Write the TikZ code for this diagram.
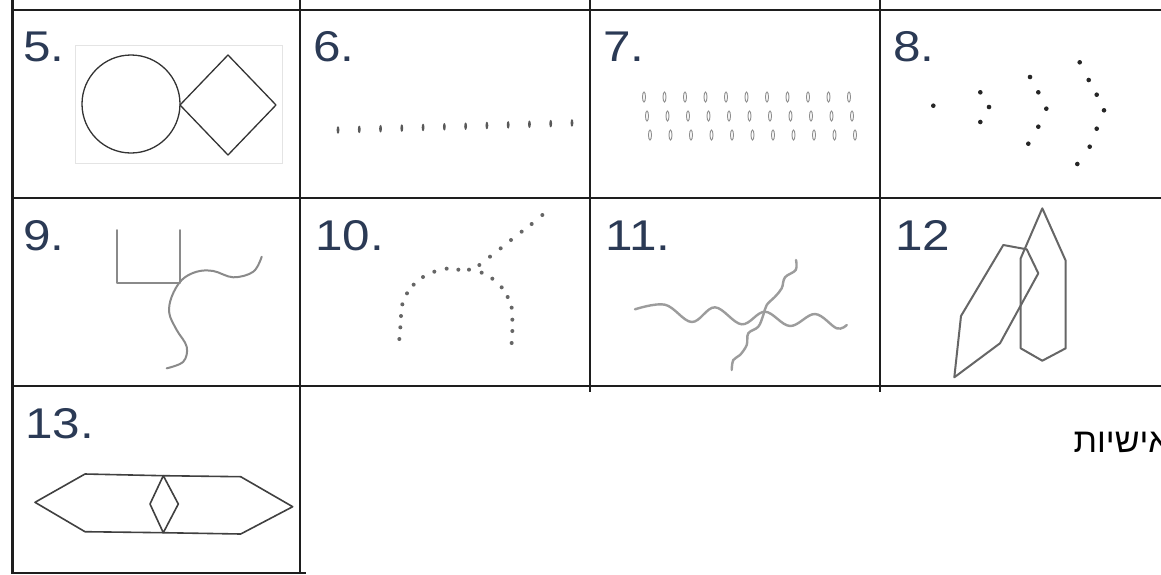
\documentclass[tikz,border=0pt]{standalone}
\usepackage{fontspec}
\setmainfont{Liberation Sans}
\newfontfamily\hebfont[Script=Hebrew]{Liberation Sans}
\TeXXeTstate=1
\definecolor{lab}{HTML}{2B3A55}
\definecolor{gridc}{HTML}{1E1E1E}
\definecolor{shp}{HTML}{333333}
\definecolor{gshp}{HTML}{8A8A8A}
\definecolor{faint}{HTML}{E4E4E4}
\begin{document}
\begin{tikzpicture}[x=1pt,y=-1pt,
  gridline/.style={line width=2pt, draw=gridc},
  num/.style={anchor=base west, inner sep=0pt, text=lab, font=\fontsize{43}{43}\selectfont, xscale=1.15},
  thinshape/.style={line width=1.3pt, draw=shp, line join=round},
  greyshape/.style={line width=2pt, draw=gshp, line join=round, line cap=round},
  wave/.style={line width=2.4pt, draw=gshp!85, line cap=round}]
\useasboundingbox (0,0) rectangle (1161,574);
\clip (0,0) rectangle (1161,574);
\fill[white] (0,0) rectangle (1161,574);

% grid
\draw[gridline, line width=3pt] (12,0) -- (12,574);
\draw[gridline] (12,10) -- (1161,10);
\draw[gridline] (12,198) -- (1161,198);
\draw[gridline] (12,386) -- (1161,386);
\draw[gridline] (12,573) -- (306,573);
\draw[gridline] (300,0) -- (300,574);
\draw[gridline] (590,0) -- (590,392);
\draw[gridline] (880,0) -- (880,392);

% labels
\node[num] (l5) at (23,61) {5.};
\node[num] (l6) at (313,61) {6.};
\node[num] (l7) at (603,61) {7.};
\node[num] (l8) at (893,61) {8.};
\node[num] (l9) at (23,250) {9.};
\node[num] (l10) at (315,250) {10.};
\node[num] (l11) at (605,250) {11.};
\node[num] (l12) at (895,250) {12};
\node[num] (l13) at (25,438) {13.};

% cell 5
\draw[faint, line width=0.8pt] (75,45) rectangle (282,163);
\draw[thinshape] (131,104) circle [radius=49pt];
\draw[thinshape] (180,105) -- (228,55) -- (276,105) -- (228,155) -- cycle;

% cell 6
\foreach \i in {0,...,11}
  \fill[black!65] ({338+\i*21.27},{130-\i*0.64}) ellipse [x radius=1.4pt, y radius=3.8pt];

% cell 7
\foreach \r/\xa/\yy in {0/644/97, 1/647/116, 2/650/135}
  \foreach \i in {0,...,10}
    \draw[black!45, line width=0.9pt] ({\xa+\i*20.5},\yy) ellipse [x radius=1.5pt, y radius=5pt];

% cell 8
\foreach \p in {(933.3,105.7),(980.3,92.3),(989,107),(980.3,122),
  (1030,77),(1038.3,92.3),(1046.3,108.7),(1038.3,126.7),(1028.3,143.7),
  (1079.7,62.3),(1088.7,80),(1096.7,94.7),(1104,110.3),(1096.7,128.7),(1089.7,146.7),(1077.3,164)}
  \fill[black!85] \p circle [radius=2.3pt];

% cell 9
\draw[greyshape] (116.7,230) -- (116.7,283) -- (180,283) -- (180,230);
\draw[greyshape] plot[smooth, tension=0.6] coordinates {(261.7,256.7) (253.3,271.7) (233.3,277.3) (213.3,271) (196.7,271.7) (181.7,280) (171.7,296.7) (169.3,313.3) (176.7,330) (186.7,346.7) (183.3,361.7) (166.7,368.3)};

% cell 10
\foreach \X/\Y in {742/75,710/102,680/125,648/150,617/175,585/200,553/225,
  313/447,316/412,318/378,322/343,336/310,356/284,384/261,418/245,455/236,490/239,522/239,560/248,592/266,620/292,638/321,650/353,652/389,652/423,650/459}
  \fill[black!60] ({295+\X/3},{190+\Y/3}) circle [radius=2pt];

% cell 11
\draw[wave] plot[smooth, tension=0.6] coordinates {(635,309.3) (665,304.7) (691.7,322) (715,307.3) (741.7,324.3) (765,311.7) (790,326) (815,314) (836.7,328.3) (846.7,325)};
\draw[wave] plot[smooth, tension=0.6] coordinates {(796,260) (795.7,270) (785,277.3) (781.7,288.3) (775,296.7) (766.7,305) (763.3,315) (758.3,326.7) (748.3,333.3) (746.7,345) (740,355) (733.3,360) (731.7,370)};

% cell 12
\draw[greyshape, draw=black!60] (1042.3,208.3) -- (1065.7,260.7) -- (1065.7,348.3) -- (1042.3,360.7) -- (1020.7,348.3) -- (1020.7,258.3) -- cycle;
\draw[greyshape, draw=black!60] (1003.3,245) -- (1026.7,249.3) -- (1038.3,273.3) -- (1000,343.3) -- (954.3,377.3) -- (961,316) -- cycle;

% cell 13
\draw[thinshape, draw=black!75, line width=1.6pt] (163.3,475.7) -- (85,474) -- (35,502.3) -- (85,531.7) -- (163.3,532.7);
\draw[thinshape, draw=black!75, line width=1.6pt] (163.3,475.7) -- (240.7,476.7) -- (292.7,506.7) -- (240.7,534) -- (163.3,532.7);
\draw[thinshape, draw=black!75, line width=1.6pt] (163.3,475.7) -- (178.3,504) -- (163.3,532.7) -- (150,504) -- cycle;

% hebrew text (cut at the right edge, as in the reference)
\node[anchor=base east, inner sep=0pt, font=\hebfont\fontsize{34}{34}\selectfont] (heb) at (1170,452) {\beginR אישיות\endR};
\end{tikzpicture}
\end{document}
